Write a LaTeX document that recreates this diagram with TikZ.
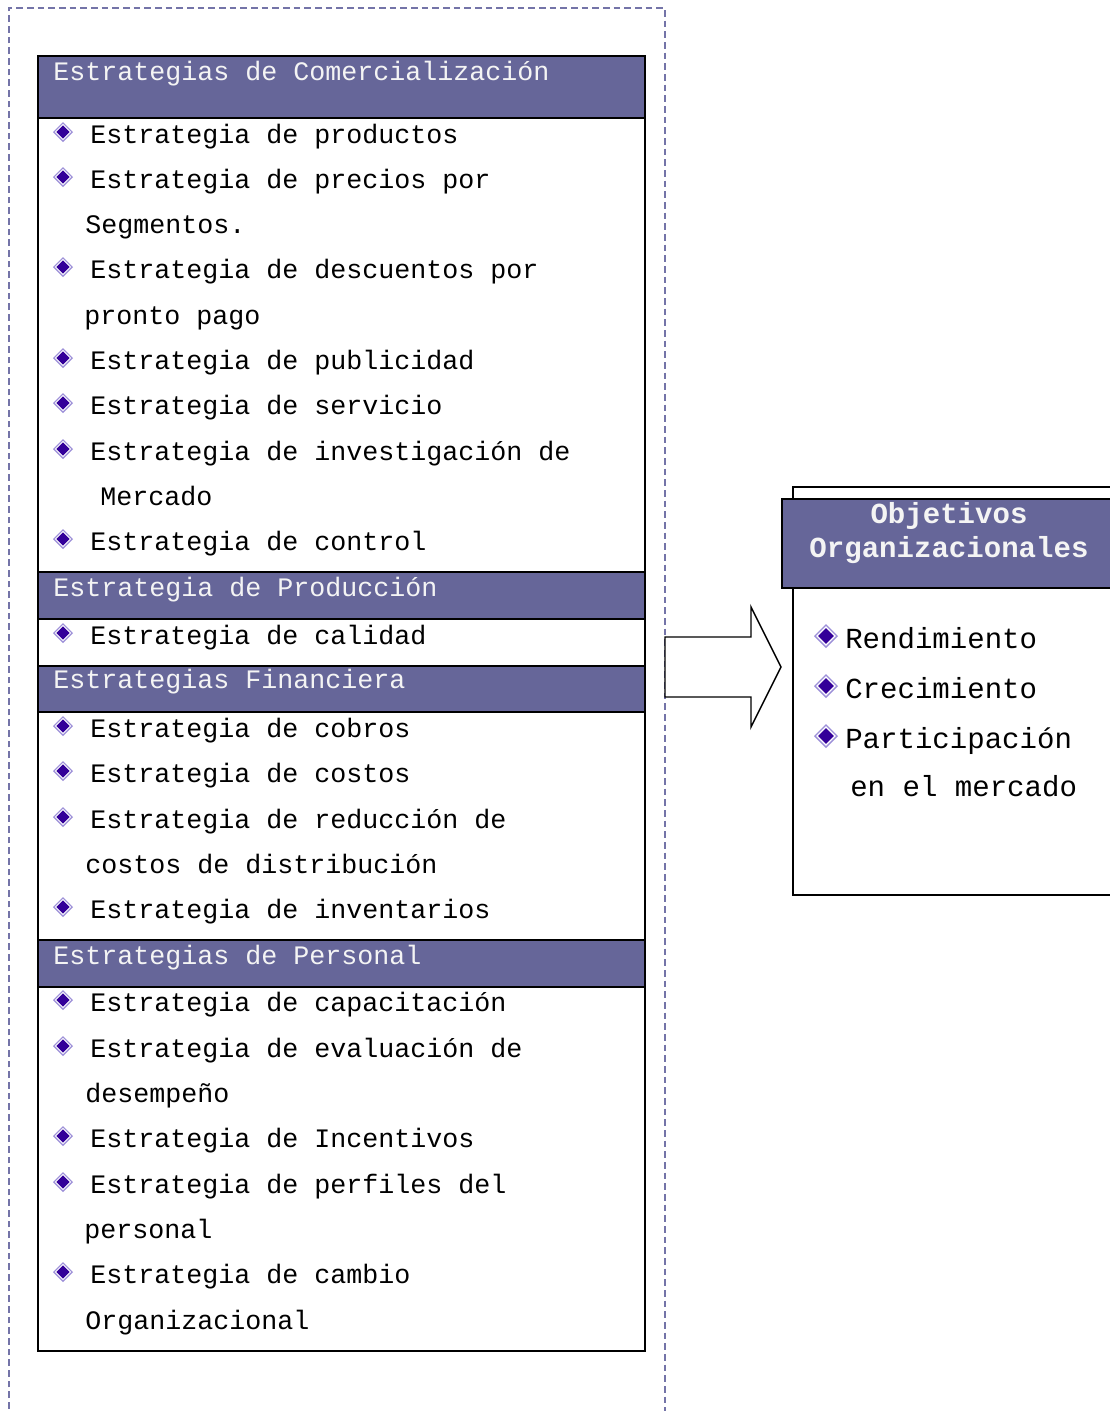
\documentclass[tikz,border=0pt]{standalone}
\usepackage{fontspec}
\setmainfont{Liberation Mono}
\definecolor{hdr}{HTML}{666699}
\definecolor{hdrtext}{HTML}{F4F4F4}
\definecolor{framecol}{HTML}{7474A8}
\definecolor{gemedge}{HTML}{9C8FD8}
\definecolor{gemcore}{HTML}{330099}
\tikzset{
  gem/.pic={
    \fill[gemedge] (0,-10)--(10,0)--(0,10)--(-10,0)--cycle;
    \fill[white] (0,-8.2)--(8.2,0)--(0,8.2)--(-8.2,0)--cycle;
    \fill[gemcore] (0,-6.6)--(6.6,0)--(0,6.6)--(-6.6,0)--cycle;
  },
  item/.style={anchor=base west, inner sep=0pt, font=\fontsize{20}{24}\selectfont},
  bigitem/.style={anchor=base west, inner sep=0pt, font=\fontsize{21.8}{26}\selectfont},
  headtext/.style={anchor=base west, inner sep=0pt, text=hdrtext, font=\fontsize{20}{24}\selectfont},
  headbar/.style={fill=hdr, draw=black, line width=1.5pt},
  boxline/.style={draw=black, line width=1.5pt},
  frame/.style={draw=framecol, line width=1pt, dash pattern=on 5pt off 3pt},
}
\begin{document}
\begin{tikzpicture}[x=0.75pt, y=-0.75pt]
\useasboundingbox (0,0) rectangle (1110,1411);
\clip (0,0) rectangle (1110,1411);

% dashed outer frame, open at the bottom
\draw[frame] (9,1430) -- (9,8) -- (665,8) -- (665,1430);

% left column: header bars and outline
\fill[white] (38,56) rectangle (645,1351);
\path[headbar] (38,56) rectangle (645,118);
\path[headbar] (38,572) rectangle (645,619);
\path[headbar] (38,666) rectangle (645,712);
\path[headbar] (38,940) rectangle (645,987);
\draw[boxline] (38,56) rectangle (645,1351);

% section titles
\node[headtext] (h1) at (53,80) {Estrategias de Comercialización};
\node[headtext] (h2) at (53,596) {Estrategia de Producción};
\node[headtext] (h3) at (53,688) {Estrategias Financiera};
\node[headtext] (h4) at (53,964) {Estrategias de Personal};

% bullets of the left column
\foreach \y in {143,188,278,369,414,460,550,644,737,782,828,918,1011,1057,1147,1193,1283}
  \pic at (63,\y-11) {gem};

% left column entries
\node[item] (a1) at (90,143) {Estrategia de productos};
\node[item] (a2) at (90,188) {Estrategia de precios por};
\node[item] (a2b) at (85,233) {Segmentos.};
\node[item] (a3) at (90,278) {Estrategia de descuentos por};
\node[item] (a3b) at (84,324) {pronto pago};
\node[item] (a4) at (90,369) {Estrategia de publicidad};
\node[item] (a5) at (90,414) {Estrategia de servicio};
\node[item] (a6) at (90,460) {Estrategia de investigación de};
\node[item] (a6b) at (100,505) {Mercado};
\node[item] (a7) at (90,550) {Estrategia de control};
\node[item] (b1) at (90,644) {Estrategia de calidad};
\node[item] (c1) at (90,737) {Estrategia de cobros};
\node[item] (c2) at (90,782) {Estrategia de costos};
\node[item] (c3) at (90,828) {Estrategia de reducción de};
\node[item] (c3b) at (85,873) {costos de distribución};
\node[item] (c4) at (90,918) {Estrategia de inventarios};
\node[item] (d1) at (90,1011) {Estrategia de capacitación};
\node[item] (d2) at (90,1057) {Estrategia de evaluación de};
\node[item] (d2b) at (85,1102) {desempeño};
\node[item] (d3) at (90,1147) {Estrategia de Incentivos};
\node[item] (d4) at (90,1193) {Estrategia de perfiles del};
\node[item] (d4b) at (84,1238) {personal};
\node[item] (d5) at (90,1283) {Estrategia de cambio};
\node[item] (d5b) at (85,1329) {Organizacional};

% block arrow towards the objectives
\draw[fill=white, line width=1.1pt, line join=miter]
  (665,637) -- (751,637) -- (751,607) -- (781,667) -- (751,727) -- (751,697) -- (665,697) -- cycle;

% objectives box
\draw[line width=1.1pt] (1130,487) -- (793,487) -- (793,895) -- (1130,895);
\path[headbar] (782,499) rectangle (1130,588);
\node[anchor=base, inner sep=0pt, text=hdrtext, font=\bfseries\fontsize{21.8}{26}\selectfont] (o1) at (949,523) {Objetivos};
\node[anchor=base, inner sep=0pt, text=hdrtext, font=\bfseries\fontsize{21.8}{26}\selectfont] (o2) at (949,557) {Organizacionales};

\foreach \y in {648,698,748}
  \pic[scale=1.2] at (826,\y-12) {gem};
\node[bigitem] (r1) at (845,648) {Rendimiento};
\node[bigitem] (r2) at (845,698) {Crecimiento};
\node[bigitem] (r3) at (845,748) {Participación};
\node[bigitem] (r3b) at (850,796) {en el mercado};
\end{tikzpicture}
\end{document}
